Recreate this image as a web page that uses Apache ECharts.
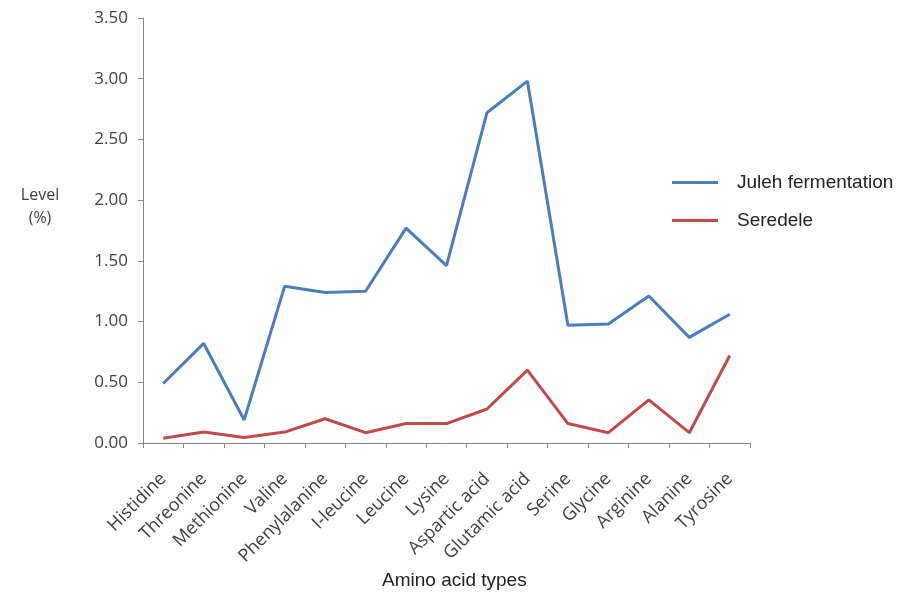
<!DOCTYPE html>
<html>
<head>
<meta charset="utf-8">
<script src="https://cdn.jsdelivr.net/npm/echarts@6/dist/echarts.min.js"></script>
<style>html,body{margin:0;padding:0;background:#fff;}#c{width:899px;height:595px;}</style>
</head>
<body>
<div id="c"></div>
<script>
const categories = ['Histidine','Threonine','Methionine','Valine','Phenylalanine','I-leucine','Leucine','Lysine','Aspartic acid','Glutamic acid','Serine','Glycine','Arginine','Alanine','Tyrosine'];
const juleh = [0.49, 0.82, 0.19, 1.29, 1.24, 1.25, 1.77, 1.46, 2.72, 2.98, 0.97, 0.98, 1.21, 0.87, 1.06];
const seredele = [0.04, 0.09, 0.045, 0.09, 0.20, 0.085, 0.16, 0.16, 0.28, 0.60, 0.16, 0.085, 0.355, 0.085, 0.72];
const yTicks = [0, 0.5, 1, 1.5, 2, 2.5, 3, 3.5];

const chart = echarts.init(document.getElementById('c'));
const axisColor = '#868686';
const txt = '#404040';
chart.setOption({
  animation: false,
  backgroundColor: '#ffffff',
  grid: {left: 143, right: 149, top: 18, bottom: 152, containLabel: false},
  legend: {
    orient: 'vertical', left: 667, top: 168, itemGap: 19,
    itemWidth: 46, itemHeight: 3, icon: 'rect',
    textStyle: {fontFamily: 'Liberation Sans, Arial, sans-serif', fontSize: 19, color: '#222', padding: [0,0,0,14]},
    data: ['Juleh fermentation', 'Seredele']
  },
  graphic: [
    {type: 'text', x: 40, y: 207, style: {text: 'Level\n(%)', font: '16px "Open Sans", sans-serif', fill: txt, lineHeight: 23, align: 'center', verticalAlign: 'middle'}},
    {type: 'text', left: 382, top: 571, style: {text: 'Amino acid types', font: '19px "Liberation Sans", Arial, sans-serif', fill: '#222'}}
  ],
  xAxis: {
    type: 'category', data: categories, boundaryGap: true,
    axisLine: {lineStyle: {color: axisColor, width: 1}},
    axisTick: {show: true, alignWithLabel: false, length: 5, lineStyle: {color: axisColor}},
    axisLabel: {rotate: 45, interval: 0, margin: 33, fontSize: 18, color: txt, fontFamily: '"Open Sans", sans-serif'}
  },
  yAxis: {
    type: 'value', min: 0, max: 3.5, interval: 0.5,
    axisLine: {show: true, lineStyle: {color: axisColor, width: 1}},
    axisTick: {show: true, length: 5, lineStyle: {color: axisColor}},
    splitLine: {show: false},
    axisLabel: {margin: 15, fontSize: 17, color: txt, fontFamily: '"Open Sans", sans-serif',
      formatter: v => v.toFixed(2)}
  },
  series: [
    {name: 'Juleh fermentation', type: 'line', data: juleh, symbol: 'none',
     lineStyle: {color: '#4A7EBB', width: 3}, itemStyle: {color: '#4A7EBB'}},
    {name: 'Seredele', type: 'line', data: seredele, symbol: 'none',
     lineStyle: {color: '#BE4B48', width: 3}, itemStyle: {color: '#BE4B48'}}
  ]
});
</script>
</body>
</html>
